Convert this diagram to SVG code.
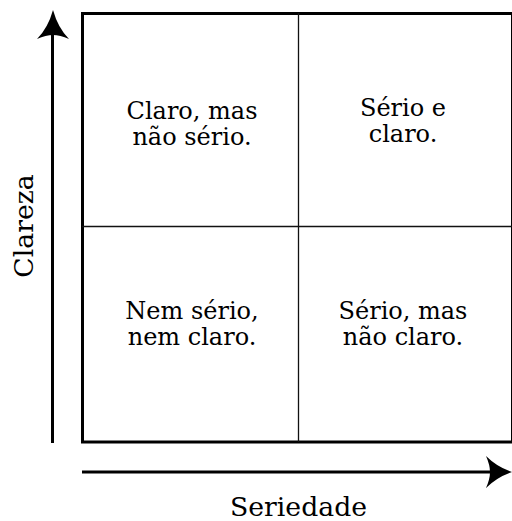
<svg xmlns="http://www.w3.org/2000/svg" width="512" height="521" viewBox="0 0 512 521">
  <style>
    .q { font-family: "DejaVu Serif", "Liberation Serif", serif; font-size: 24px; fill: #000; text-anchor: middle; }
    .ax { font-family: "DejaVu Serif", "Liberation Serif", serif; font-size: 26.7px; fill: #000; text-anchor: middle; }
    .frame { fill: #fff; stroke: #000; stroke-width: 3; }
    .div { stroke: #111; stroke-width: 1.3; fill: none; }
    .axis { stroke: #000; stroke-width: 3; fill: none; }
    .head { fill: #000; stroke: none; }
  </style>
  <rect width="512" height="521" fill="#fff"/>
  <g id="matrix">
    <rect class="frame" x="82.5" y="13.5" width="430" height="428.5"/>
    <line class="div" x1="298.5" y1="13" x2="298.5" y2="442"/>
    <line class="div" x1="82" y1="226.5" x2="512" y2="226.5"/>
  </g>
  <g id="q-top-left">
    <text class="q" x="192" y="119">Claro, mas</text>
    <text class="q" x="192" y="145">não sério.</text>
  </g>
  <g id="q-top-right">
    <text class="q" x="403" y="116">Sério e</text>
    <text class="q" x="403" y="142">claro.</text>
  </g>
  <g id="q-bottom-left">
    <text class="q" x="192" y="319">Nem sério,</text>
    <text class="q" x="192" y="345">nem claro.</text>
  </g>
  <g id="q-bottom-right">
    <text class="q" x="403" y="319">Sério, mas</text>
    <text class="q" x="403" y="345">não claro.</text>
  </g>
  <g id="connectors">
    <line class="axis" x1="52.5" y1="443" x2="52.5" y2="30"/>
    <path class="head" d="M53,10 Q58,28 69,39 Q60,35 53,35 Q46,35 37,39 Q48,28 53,10 Z"/>
    <line class="axis" x1="82" y1="472" x2="495" y2="472"/>
    <path class="head" d="M512,472 Q497,477 486,488 Q490,479 490,472 Q490,465 486,456 Q497,467 512,472 Z"/>
  </g>
  <g id="label-y">
    <text class="ax" transform="translate(33,226) rotate(-90)">Clareza</text>
  </g>
  <g id="label-x">
    <text class="ax" x="298.5" y="516">Seriedade</text>
  </g>
</svg>
